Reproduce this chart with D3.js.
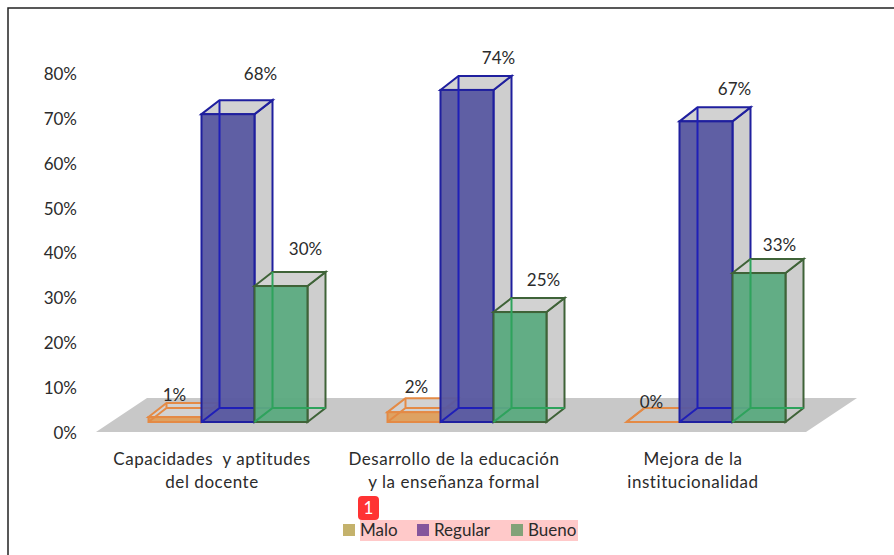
<!DOCTYPE html>
<html>
<head>
<meta charset="utf-8">
<script src="https://cdn.jsdelivr.net/npm/d3@7/dist/d3.min.js"></script>
<style>
body { margin: 0; background: #fff; }
svg { display: block; }
text { font-family: Lato, sans-serif; font-size: 17px; fill: #2b2b2b; }
</style>
</head>
<body>
<div id="chart"></div>
<script>
var width = 894;
var height = 555;

var categories = ["Capacidades", "Desarrollo", "Mejora"];
var categoryLines = [
    ["Capacidades  y aptitudes", "del docente"],
    ["Desarrollo de la educación", "y la enseñanza formal"],
    ["Mejora de la", "institucionalidad"]
];
var seriesNames = ["Malo", "Regular", "Bueno"];
var malo = [1.1, 2.2, 0];
var regular = [68.6, 74, 67];
var bueno = [30.3, 24.5, 33.2];
var maloLabels = ["1%", "2%", "0%"];
var regularLabels = ["68%", "74%", "67%"];
var buenoLabels = ["30%", "25%", "33%"];
var yTicks = [0, 10, 20, 30, 40, 50, 60, 70, 80];

var frontColors = ["#dfa05e", "#5858a0", "#5caa80"];
var lineColors = ["#e48a45", "#1f1f9e", "#3f6338"];
var innerColors = ["#e48a45", "#1f1fb8", "#2ea35c"];
var legendColors = ["#c4b26c", "#85559c", "#83a278"];

var depthX = 18, depthY = -14;

var svg = d3.select("#chart").append("svg")
    .attr("width", width)
    .attr("height", height);

// frame, only left and top show in the crop
svg.append("path")
    .attr("d", "M8,555V8H894")
    .attr("fill", "none")
    .attr("stroke", "#222")
    .attr("stroke-width", 1.5);

// scales
var yAxisScale = d3.scaleLinear().domain([0, 80]).range([433, 74]);
var barScale = d3.scaleLinear().domain([0, 80]).range([422, 63]);
var xGroup = d3.scaleBand().domain(categories).range([108.5, 825.5]);
var xBar = d3.scaleBand().domain(seriesNames).range([40, 199]);

// floor
svg.append("polygon")
    .attr("points", [[96, 432], [147, 398], [857, 398], [806, 432]].join(" "))
    .attr("fill", "#c8c8c8");

// y axis
var yAxis = d3.axisLeft(yAxisScale)
    .tickValues(yTicks)
    .tickSize(0)
    .tickFormat(function(d) { return d + "%"; });
var yG = svg.append("g").attr("transform", "translate(83,0)").call(yAxis);
yG.select(".domain").remove();
yG.selectAll("text").attr("x", -6).style("font-family", "Lato, sans-serif").style("font-size", "17px");

// bars
var rows = [];
categories.forEach(function(c, i) {
    rows.push({ cat: c, s: 0, v: malo[i], label: maloLabels[i] });
    rows.push({ cat: c, s: 1, v: regular[i], label: regularLabels[i] });
    rows.push({ cat: c, s: 2, v: bueno[i], label: buenoLabels[i] });
});

function pts(list) { return list.join(" "); }

var bars = svg.selectAll(".bar").data(rows).enter().append("g").attr("class", "bar");

bars.each(function(d) {
    var g = d3.select(this);
    var x0 = xGroup(d.cat) + xBar(seriesNames[d.s]);
    var x1 = x0 + xBar.bandwidth();
    var yB = barScale(0);
    var yT = barScale(d.v);
    var empty = d.v === 0;
    var dx = depthX, dy = depthY;

    // right and top faces
    g.append("polygon")
        .attr("points", pts([[x1, yT], [x1 + dx, yT + dy], [x1 + dx, yB + dy], [x1, yB]]))
        .attr("fill", "#c9c9c9").attr("fill-opacity", 0.9)
        .attr("stroke", lineColors[d.s]).attr("stroke-width", 2);
    g.append("polygon")
        .attr("points", pts([[x0, yT], [x0 + dx, yT + dy], [x1 + dx, yT + dy], [x1, yT]]))
        .attr("fill", "#d2d2d2").attr("fill-opacity", empty ? 0 : 1)
        .attr("stroke", lineColors[d.s]).attr("stroke-width", 2);

    // front face, see through
    g.append("rect")
        .attr("x", x0).attr("y", yT)
        .attr("width", x1 - x0).attr("height", yB - yT)
        .attr("fill", frontColors[d.s]).attr("fill-opacity", 0.96)
        .attr("stroke", lineColors[d.s]).attr("stroke-width", 2);

    // back edges showing through the front
    g.append("path")
        .attr("d", "M" + (x0 + dx) + "," + (yT + dy) + "V" + (yB + dy) + "H" + (x1 + dx) + "M" + (x0 + dx) + "," + (yB + dy) + "L" + x0 + "," + yB)
        .attr("fill", "none")
        .attr("stroke", innerColors[d.s]).attr("stroke-width", 2);
});

// value labels, nudged one by one as in the picture
var labelOffsets = [
    [26, -16], [59, -34], [51, -31],
    [29, -19], [58, -26], [50, -26],
    [25, -14], [55, -26], [47, -22]
];
svg.selectAll(".value").data(rows).enter().append("text")
    .attr("class", "value")
    .attr("x", function(d, i) { return xGroup(d.cat) + xBar(seriesNames[d.s]) + labelOffsets[i][0]; })
    .attr("y", function(d, i) { return barScale(d.v) + labelOffsets[i][1]; })
    .attr("text-anchor", "middle")
    .text(function(d) { return d.label; });

// category labels
var categoryNudge = [-2, 1, 1];
categoryLines.forEach(function(lines, i) {
    var cx = xGroup(categories[i]) + xGroup.bandwidth() / 2 - 14 + categoryNudge[i];
    lines.forEach(function(t, j) {
        svg.append("text")
            .attr("x", cx)
            .attr("y", 465 + j * 23)
            .attr("text-anchor", "middle")
            .style("white-space", "pre")
            .style("letter-spacing", "0.55px")
            .text(t);
    });
});

// legend
svg.append("rect").attr("x", 360).attr("y", 520).attr("width", 218).attr("height", 21).attr("fill", "#ffc9c9");
var legendX = [343, 417, 511];
seriesNames.forEach(function(name, i) {
    svg.append("rect")
        .attr("x", legendX[i]).attr("y", 524)
        .attr("width", 12).attr("height", 12)
        .attr("fill", legendColors[i]);
    svg.append("text")
        .attr("x", legendX[i] + 17).attr("y", 536)
        .text(name);
});

// badge
svg.append("rect").attr("x", 358).attr("y", 496).attr("width", 21).attr("height", 24).attr("rx", 4).attr("fill", "#ff3333");
svg.append("text").attr("x", 368.5).attr("y", 514).attr("text-anchor", "middle").style("fill", "#fff").text("1");
</script>
</body>
</html>
